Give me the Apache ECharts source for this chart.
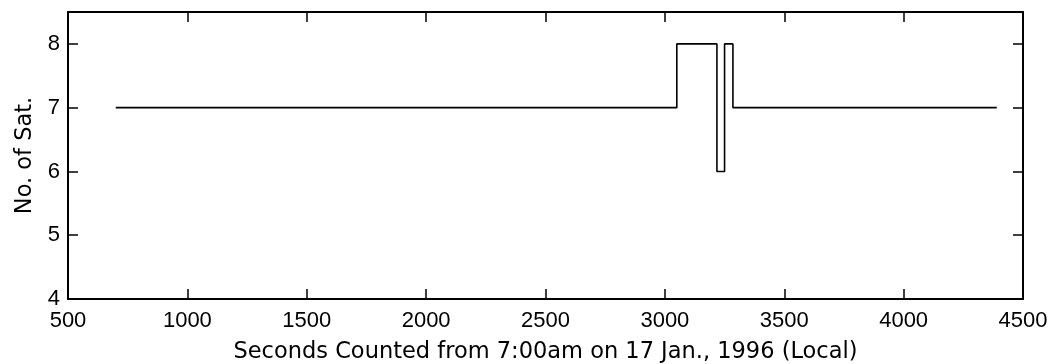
<!DOCTYPE html>
<html>
<head>
<meta charset="utf-8">
<script src="https://cdn.jsdelivr.net/npm/echarts@6/dist/echarts.min.js"></script>
<style>html,body{margin:0;padding:0;background:#fff}#c{width:1060px;height:364px}</style>
</head>
<body>
<div id="c"></div>
<script>
// Data
const seconds = [700, 3050, 3050, 3218, 3218, 3250, 3250, 3285, 3285, 4390];
const satCount = [7, 7, 8, 8, 6, 6, 8, 8, 7, 7];
const xTicks = [500, 1000, 1500, 2000, 2500, 3000, 3500, 4000, 4500];
const yTicks = [4, 5, 6, 7, 8];
const xTitle = 'Seconds Counted from 7:00am on 17 Jan., 1996 (Local)';
const yTitle = 'No. of Sat.';

const pts = seconds.map((s, i) => [s, satCount[i]]);
const tickFont = { fontFamily: 'Liberation Sans, Arial, sans-serif', fontSize: 22, color: '#000' };
const titleFont = { fontFamily: 'DejaVu Sans, sans-serif', fontSize: 22.5, color: '#000' };
const lineStyle = { color: '#000', width: 2 };
const tickStyle = { show: true, inside: true, length: 10, lineStyle: { color: '#000', width: 1.5 } };

const chart = echarts.init(document.getElementById('c'), null, { renderer: 'canvas' });
chart.setOption({
  animation: false,
  backgroundColor: '#fff',
  grid: { left: 68, right: 37, top: 12, bottom: 65, containLabel: false, outerBoundsMode: 'none' },
  xAxis: [{
    type: 'value', min: xTicks[0], max: xTicks[xTicks.length - 1], interval: 500,
    position: 'bottom',
    axisLine: { show: true, onZero: false, lineStyle },
    axisTick: tickStyle,
    splitLine: { show: false },
    axisLabel: Object.assign({ margin: 11, formatter: v => xTicks.includes(v) ? String(v) : '' }, tickFont),
    name: xTitle, nameLocation: 'middle', nameGap: 42, nameTextStyle: titleFont
  }, {
    type: 'value', min: xTicks[0], max: xTicks[xTicks.length - 1], interval: 500,
    position: 'top',
    axisLine: { show: true, onZero: false, lineStyle },
    axisTick: tickStyle,
    splitLine: { show: false },
    axisLabel: { show: false }
  }],
  yAxis: [{
    type: 'value', min: 4, max: 8.5, interval: 1,
    position: 'left',
    axisLine: { show: true, onZero: false, lineStyle },
    axisTick: tickStyle,
    splitLine: { show: false },
    axisLabel: Object.assign({ margin: 8, formatter: v => yTicks.includes(v) ? String(v) : '' }, tickFont),
    name: yTitle, nameLocation: 'middle', nameGap: 27, nameRotate: 90, nameTextStyle: titleFont
  }, {
    type: 'value', min: 4, max: 8.5, interval: 1,
    position: 'right',
    axisLine: { show: true, onZero: false, lineStyle },
    axisTick: tickStyle,
    splitLine: { show: false },
    axisLabel: { show: false }
  }],
  series: [{
    type: 'line', data: pts, xAxisIndex: 0, yAxisIndex: 0,
    showSymbol: false, symbol: 'none',
    lineStyle: { color: '#000', width: 1.6 },
    silent: true
  }]
});
</script>
</body>
</html>
